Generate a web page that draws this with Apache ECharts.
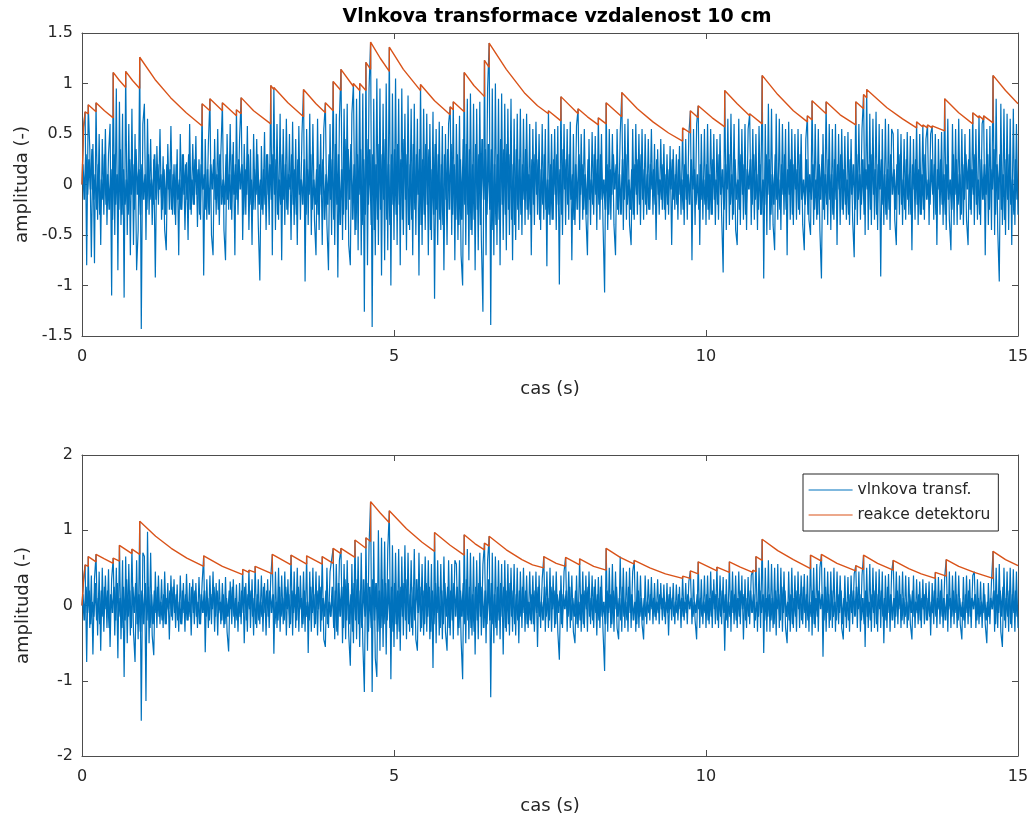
<!DOCTYPE html>
<html><head><meta charset="utf-8">
<script src="https://cdn.jsdelivr.net/npm/echarts/dist/echarts.min.js"></script>
<style>html,body{margin:0;padding:0;background:#fff}#c{width:1035px;height:823px}</style>
</head><body><div id="c"></div><script>
// sampling step of the wavelet signal (s); "Mid" arrays hold the dense core samples, half a step later
const T_STEP = 0.025;
const titleText = 'Vlnkova transformace vzdalenost 10 cm';
const xName = 'cas (s)';
const yName = 'amplituda (-)';
const seriesNames = ['vlnkova transf.', 'reakce detektoru'];

// top panel: wavelet transform values, one row per second
const topWave = [
0,.57,.72,-.80,.79,.35,-.72,.40,-.78,.81,-.35,.50,-.60,.45,-.30,.55,-.40,.30,.60,-1.10,1.11,-.50,.95,-.85,.82,-.40,.70,-1.12,1.12,-.50,.60,-.70,.75,-.60,.50,-.85,-.45,1.26,-1.43,.60,
.80,-.55,.65,-.30,.45,-.40,.25,-.92,.38,-.20,.55,-.35,.28,-.45,-.65,.40,-.25,.58,-.30,.20,-.40,.35,-.70,.50,-.25,.30,-.45,.22,-.55,.60,-.30,.40,-.20,.48,-.42,.25,-.35,.80,-.90,.45,
-.35,.40,.85,-.50,-.70,.45,-.30,.55,-.40,.30,.81,-.45,-.75,.50,-.25,.60,-.35,.42,-.70,.74,-.30,.45,.86,-.55,.40,-.30,.58,-.45,.35,-.60,.50,-.25,.45,-.40,-.95,.38,-.30,.52,-.45,.30,
-.40,.98,-.70,.96,-.45,.60,-.35,.70,-.75,.55,-.40,.65,-.30,.50,-.55,.62,-.40,.45,-.60,.58,-.35,.50,.94,-.96,.55,-.40,.70,-.50,.60,-.35,-.70,.65,-.45,.50,-.60,.55,.81,-.40,-.85,.60,
-.50,1.02,-.60,.70,-.92,.65,1.14,-.55,.75,-.45,.80,-.60,-.80,.70,1.00,-.50,.85,-.65,1.00,-.70,.90,-1.26,1.21,-.80,.95,1.41,-1.41,.85,-.70,1.05,-.60,.95,-.90,.80,-.75,1.00,-.65,1.36,-1.00,.90,
-.55,1.05,-.60,.85,-.80,.95,-.50,.70,-.65,.88,-.45,.75,-.70,.80,-.50,.65,-.90,.99,-.60,.75,-.45,.70,-.70,.60,-.55,.72,-1.13,.55,-.60,.62,-.45,.58,-.85,.50,-.60,.60,.77,-.50,.82,-.75,
.60,-.55,.68,-.70,-1.00,1.11,-.60,.85,-.75,.90,-.50,.80,-.85,.75,-.65,.82,-.55,-1.26,1.23,-.70,.95,1.40,-1.39,.95,-.70,1.00,-.60,.85,-.80,.90,-.55,.80,-.65,.75,-.50,.85,-.75,.65,-.55,.70,
-.45,.75,-.50,.65,-.40,.70,-.35,.60,-.70,.55,-.40,.62,-.30,.50,-.45,.60,-.35,.55,-.81,.73,-.40,.50,-.35,.55,-.45,.58,-.99,.87,-.50,.60,-.40,.55,-.35,.62,-.75,.50,-.40,.58,.75,-.45,
.50,-.35,.55,-.30,-.70,.45,-.40,.52,-.30,.48,-.45,.66,-.35,.50,-.40,-1.07,.81,-.45,.55,-.35,.50,-.40,-.70,.55,-.30,.50,.91,-.45,.60,-.35,.65,-.40,-.60,.55,-.35,.60,-.30,.50,-.40,.55,
-.35,.50,-.30,.45,-.25,.55,-.30,.40,-.55,.35,-.30,.45,-.25,.40,-.35,.30,-.30,.38,-.60,.35,-.25,.30,-.35,.38,-.30,.56,-.40,.45,-.35,.50,.73,-.75,.55,-.40,.60,.78,-.60,.50,-.35,.55,
-.40,.60,-.35,.55,-.30,.50,-.40,.45,-.35,.50,-.30,-.87,.93,-.45,.65,-.40,.70,-.35,.60,-.45,-.60,.65,-.40,.55,-.35,.60,-.45,.55,.70,-.40,.55,-.35,.50,-.45,.58,-.30,1.08,-.93,.60,-.50,
.80,-.45,.75,-.40,-.65,.70,-.35,.65,-.45,.60,-.30,.55,-.70,.62,-.35,.55,-.40,.50,-.35,.55,-.30,.50,-.40,-.65,.45,.68,-.35,-.50,.83,-.40,.60,-.35,.55,-.45,-.93,.50,-.35,.82,-.40,.60,
-.45,.55,-.35,.60,-.60,.50,-.40,.55,-.30,.48,-.35,.52,-.40,.45,-.35,-.72,.82,-.40,.60,-.35,.55,.89,-.50,.94,-.45,.70,-.40,.65,-.35,.72,-.45,.60,-.91,.55,-.40,.65,-.35,.60,-.45,.55,
.50,-.35,-.60,.55,-.30,.50,-.40,.45,-.35,.52,-.30,.48,-.65,.45,-.35,.62,-.40,.50,-.30,.59,-.35,.45,.59,-.40,.50,.58,-.35,.50,-.60,.45,-.30,.52,-.40,.85,-.45,.65,-.35,-.65,.60,-.40,
.55,-.40,.65,-.35,.55,-.40,.50,-.35,-.60,.55,-.30,.71,-.40,.55,-.35,.68,-.40,.60,.68,-.70,.55,-.40,.58,-.45,1.08,-.50,.85,-.45,-.96,.80,-.40,.75,-.50,.70,-.45,.65,-.60,.75,-.40,.60,
-.30];
const topWaveMid = [
.20,-.15,.30,-.10,.25,-.05,.35,-.15,.10,-.25,.20,-.30,.05,-.15,.30,-.20,.10,-.25,.15,-.35,.30,-.20,.10,-.25,.35,-.30,.15,-.20,.05,-.30,.25,-.10,.20,-.25,.35,-.10,.15,-.30,.20,-.15,
.10,-.25,.30,-.15,.05,-.20,.30,-.15,.20,-.05,.10,-.25,.15,-.30,.20,-.05,.15,-.25,.10,-.30,.20,-.15,.05,-.25,.30,-.10,.20,-.15,.30,-.25,.05,-.20,.25,-.10,.15,-.30,.20,-.05,.10,-.25,
.15,-.30,.20,-.05,.25,-.15,.10,-.25,.30,-.20,.05,-.20,.30,-.15,.10,-.25,.30,-.10,.20,-.15,.25,-.05,.20,-.30,.15,-.10,.30,-.20,.05,-.25,.15,-.10,.30,-.20,.05,-.25,.15,-.20,.30,-.10,
.20,-.15,.30,-.10,.25,-.30,.05,-.20,.30,-.15,.20,-.25,.10,-.05,.30,-.20,.15,-.30,.25,-.10,.05,-.20,.25,-.30,.15,-.10,.30,-.25,.05,-.20,.15,-.30,.20,-.10,.25,-.35,.10,-.20,.30,-.15,
.25,-.35,.40,-.20,.30,-.40,.15,-.30,.45,-.25,.35,-.15,.40,-.35,.20,-.45,.30,-.10,.35,-.40,.25,-.30,.45,-.20,.35,-.40,.30,-.45,.20,-.35,.40,-.25,.30,-.15,.45,-.35,.20,-.40,.30,-.20,
.35,-.30,.40,-.20,.25,-.35,.45,-.15,.30,-.40,.20,-.35,.40,-.25,.30,-.10,.35,-.40,.25,-.30,.40,-.20,.35,-.45,.15,-.30,.40,-.25,.30,-.35,.20,-.40,.30,-.15,.35,-.25,.40,-.30,.20,-.35,
.30,-.40,.25,-.35,.45,-.20,.40,-.30,.35,-.45,.20,-.35,.40,-.25,.30,-.40,.45,-.15,.35,-.30,.40,-.25,.35,-.45,.20,-.40,.30,-.35,.45,-.20,.35,-.30,.40,-.25,.30,-.35,.20,-.40,.35,-.25,
.25,-.30,.20,-.15,.35,-.25,.10,-.30,.25,-.20,.30,-.10,.25,-.35,.15,-.20,.30,-.25,.05,-.30,.20,-.35,.25,-.10,.30,-.20,.15,-.30,.35,-.05,.25,-.20,.30,-.15,.10,-.35,.20,-.25,.30,-.10,
.20,-.25,.10,-.30,.25,-.15,.05,-.20,.30,-.10,.25,-.20,.30,-.15,.05,-.25,.20,-.30,.15,-.10,.30,-.05,.20,-.25,.10,-.30,.25,-.15,.30,-.20,.05,-.25,.15,-.30,.20,-.10,.25,-.20,.30,-.15,
.15,-.20,.10,-.25,.20,-.05,.15,-.20,.25,-.10,.05,-.15,.20,-.25,.10,-.20,.15,-.05,.25,-.15,.10,-.20,.25,-.10,.05,-.25,.20,-.15,.10,-.20,.25,-.05,.15,-.20,.10,-.25,.20,-.15,.05,-.20,
.20,-.25,.10,-.30,.25,-.15,.05,-.20,.30,-.10,.15,-.25,.20,-.05,.30,-.20,.10,-.30,.25,-.15,.05,-.25,.30,-.10,.20,-.30,.15,-.05,.25,-.20,.30,-.15,.10,-.25,.20,-.30,.05,-.20,.30,-.10,
.25,-.30,.10,-.20,.30,-.15,.05,-.25,.20,-.10,.30,-.25,.15,-.10,.25,-.30,.20,-.05,.15,-.25,.30,-.15,.05,-.20,.25,-.30,.10,-.15,.20,-.25,.05,-.30,.20,-.15,.30,-.25,.10,-.20,.25,-.15,
.10,-.30,.25,-.15,.20,-.05,.30,-.25,.15,-.20,.05,-.30,.25,-.10,.20,-.25,.30,-.15,.10,-.20,.25,-.30,.15,-.05,.20,-.25,.30,-.10,.15,-.30,.20,-.05,.25,-.20,.10,-.30,.15,-.25,.30,-.10,
.15,-.25,.20,-.10,.30,-.20,.05,-.25,.25,-.15,.10,-.30,.20,-.05,.25,-.20,.15,-.30,.10,-.25,.30,-.15,.05,-.20,.25,-.10,.20,-.30,.15,-.05,.25,-.20,.10,-.30,.20,-.15,.05,-.25,.30,-.10,
.25,-.20,.10,-.30,.20,-.15,.30,-.05,.25,-.25,.15,-.10,.30,-.20,.05,-.30,.25,-.15,.20,-.10,.30,-.25,.15,-.05,.35,-.30,.20,-.15,.30,-.25,.10,-.35,.25,-.15,.30,-.20,.05,-.30,.25,-.15];

// top panel: detector reaction (envelope) as [time, value]
const topDetector = [[0,0],[0.025,0.57],[0.05,0.56],[0.05,0.72],[0.1,0.70],[0.1,0.79],[0.225,0.72],[0.225,0.81],[0.36,0.73],[0.5,0.66],[0.5,1.11],[0.6,1.03],[0.7,0.96],[0.7,1.12],[0.81,1.03],[0.925,0.95],[0.925,1.26],[1.17,1.04],[1.42,0.86],[1.67,0.71],[1.925,0.58],[1.925,0.80],[2.05,0.73],[2.05,0.85],[2.25,0.73],[2.25,0.81],[2.475,0.68],[2.475,0.74],[2.55,0.70],[2.55,0.86],[2.75,0.73],[3.025,0.60],[3.025,0.98],[3.075,0.94],[3.075,0.96],[3.3,0.81],[3.55,0.67],[3.55,0.94],[3.75,0.80],[3.9,0.71],[3.9,0.81],[4.025,0.73],[4.025,1.02],[4.15,0.93],[4.15,1.14],[4.35,0.97],[4.35,1.00],[4.45,0.93],[4.45,1.00],[4.55,0.93],[4.55,1.21],[4.625,1.14],[4.625,1.41],[4.78,1.25],[4.925,1.12],[4.925,1.36],[5.15,1.14],[5.425,0.93],[5.425,0.99],[5.65,0.83],[5.9,0.69],[5.9,0.77],[5.95,0.74],[5.95,0.82],[6.125,0.72],[6.125,1.11],[6.28,0.98],[6.45,0.87],[6.45,1.23],[6.525,1.16],[6.525,1.40],[6.8,1.14],[7.1,0.90],[7.3,0.78],[7.475,0.70],[7.475,0.73],[7.675,0.63],[7.675,0.87],[7.95,0.70],[7.95,0.75],[8.1,0.67],[8.275,0.59],[8.275,0.66],[8.4,0.60],[8.4,0.81],[8.65,0.67],[8.65,0.91],[8.9,0.75],[9.15,0.62],[9.4,0.51],[9.625,0.43],[9.625,0.56],[9.75,0.51],[9.75,0.73],[9.875,0.66],[9.875,0.78],[10.1,0.66],[10.3,0.57],[10.3,0.93],[10.5,0.80],[10.7,0.68],[10.7,0.70],[10.9,0.60],[10.9,1.08],[11.15,0.89],[11.4,0.73],[11.625,0.62],[11.625,0.68],[11.7,0.64],[11.7,0.83],[11.925,0.70],[11.925,0.82],[12.15,0.69],[12.4,0.59],[12.4,0.82],[12.525,0.75],[12.525,0.89],[12.575,0.86],[12.575,0.94],[12.9,0.76],[13.15,0.65],[13.375,0.56],[13.375,0.62],[13.475,0.57],[13.475,0.59],[13.55,0.56],[13.55,0.59],[13.625,0.56],[13.625,0.58],[13.825,0.53],[13.825,0.85],[14.05,0.71],[14.275,0.60],[14.275,0.71],[14.375,0.66],[14.375,0.68],[14.45,0.64],[14.45,0.68],[14.6,0.61],[14.6,1.08],[14.8,0.93],[15,0.80]];

// bottom panel: wavelet transform values
const bottomWave = [
0,.34,.54,-.75,.65,-.30,.40,-.65,.35,.68,-.40,.45,-.60,.50,-.35,.40,-.30,.48,-.55,.35,.63,-.40,.50,-.70,.80,-.45,.60,-.95,.65,-.50,.55,-.40,.75,-.35,-.75,.60,-.45,1.12,-1.53,.70,
.65,-1.27,.98,-.50,.70,-.40,-.66,.45,-.30,.40,-.25,.35,-.30,.45,-.25,.30,-.45,.40,-.20,.35,-.30,.28,-.35,.40,-.25,.30,-.35,.42,-.20,.30,-.40,.35,-.25,.30,-.30,.38,-.25,.30,.66,-.62,
.35,-.30,.40,-.25,.45,-.35,.30,-.40,.35,-.25,.30,-.30,.38,-.35,-.61,.32,-.25,.35,-.30,.28,-.35,.30,-.25,.48,-.50,.30,-.35,.47,-.30,.35,-.40,.52,-.30,.35,-.25,.40,-.35,.30,-.40,.35,
-.30,.38,.68,-.64,.45,-.30,.50,-.35,.40,-.25,.45,-.40,.35,-.30,.67,-.40,.45,-.30,.50,-.35,.40,-.30,.45,-.35,.66,-.63,.45,-.35,.50,-.30,.45,-.40,.40,-.35,.65,-.45,-.55,.50,-.30,.45,
.45,.76,-.45,.55,-.40,.60,.76,-.50,.55,-.45,.60,-.40,-.80,.55,-.50,.87,-.45,.65,-.55,.70,-.50,-1.15,.90,-.60,.80,1.38,-1.15,.85,-.70,-.95,1.00,-.60,.90,-.55,.85,-.65,.75,1.26,-.98,.80,
-.55,.70,-.45,.75,-.60,.65,-.40,.80,-.45,.70,-.35,.60,-.40,.75,-.45,-.60,.70,-.35,.55,-.40,.65,-.35,.60,-.45,.55,-.83,.97,-.50,.60,-.40,.55,-.45,.65,-.35,-.60,.60,-.40,.55,-.45,.60,
.55,-.40,.60,-.45,-.98,.94,-.50,.75,-.45,.70,-.40,.65,-.65,.60,-.45,.70,-.40,.55,.83,-.50,.60,.92,-1.22,.70,-.50,.65,-.40,.60,-.45,.55,-.65,.60,-.35,.55,-.40,.50,-.35,.55,-.40,.50,
-.50,.45,-.30,.50,-.35,.40,-.30,.45,-.25,.40,-.35,.45,-.55,.40,-.30,.35,.65,-.35,.45,-.30,.50,-.35,.40,-.30,.45,-.35,-.72,.40,-.30,.45,.64,-.35,.45,-.30,.40,-.35,-.50,.40,-.30,.62,
-.35,.45,-.30,.40,-.35,.45,-.25,.40,-.30,.35,-.40,.38,-.30,.40,-.35,-.87,.76,-.35,.50,-.30,.55,-.35,.45,-.30,-.45,.65,-.35,.50,-.30,.45,-.35,.50,-.30,.45,.60,-.35,.45,-.30,.40,-.25,
-.45,.40,-.25,.35,-.20,.38,-.25,.30,-.20,.35,-.25,.30,-.20,.28,-.25,.30,-.40,.25,-.20,.30,-.25,.28,-.20,.25,-.30,.39,-.20,.30,-.25,.32,.46,-.25,.35,-.20,-.45,.58,-.30,.35,-.25,.40,
-.30,.40,-.25,.45,-.30,.35,-.25,.51,-.30,.40,-.25,.38,-.60,.35,-.30,.58,-.35,.45,-.25,.40,-.30,.45,-.25,.40,-.45,.35,-.30,.38,-.25,.40,.47,-.30,.65,-.35,.50,-.30,.88,-.63,.50,-.35,
.60,-.35,.55,-.30,.50,-.40,.55,-.30,.50,-.35,.45,-.30,-.50,.45,-.35,.50,-.30,.40,-.35,.45,-.30,.40,-.25,.42,-.30,.40,-.35,.67,-.40,.50,-.30,.55,-.35,.50,.68,-.68,.50,-.35,.45,-.30,
.45,-.30,.50,-.35,.45,-.25,.40,-.30,-.45,.40,-.30,.38,-.35,.40,-.25,.42,.53,-.30,.45,-.35,.40,.67,-.55,.50,-.30,.55,-.35,.50,-.30,.45,-.35,.48,-.30,.45,-.50,.40,-.30,.42,-.35,.45,
.60,-.30,.45,-.25,.40,-.30,.45,-.25,.40,-.30,.38,-.25,-.45,.40,-.30,.35,-.25,.32,-.30,.35,-.25,.30,-.20,.32,-.40,.30,-.25,.44,-.30,.38,-.25,.35,-.30,.38,.61,-.35,.45,-.30,.40,-.25,
.45,-.30,.40,-.25,-.45,.38,-.30,.40,-.25,.35,-.30,.40,.45,-.30,.35,-.25,.32,-.30,.30,-.25,-.50,.30,-.25,.32,.72,-.35,.50,-.30,.55,-.35,-.55,.50,-.30,.45,-.35,.50,-.30,.48,-.35,.45,
-.30];
const bottomWaveMid = [
.15,-.20,.25,-.10,.20,-.25,.05,-.15,.30,-.20,.10,-.25,.20,-.15,.25,-.05,.20,-.30,.15,-.10,.25,-.20,.30,-.15,.10,-.30,.25,-.20,.35,-.15,.20,-.30,.25,-.10,.30,-.25,.15,-.35,.20,-.25,
.30,-.20,.25,-.30,.15,-.25,.20,-.10,.25,-.15,.05,-.20,.15,-.25,.10,-.05,.20,-.15,.25,-.10,.15,-.20,.05,-.25,.20,-.10,.15,-.20,.05,-.15,.25,-.10,.20,-.15,.05,-.25,.15,-.10,.20,-.15,
.10,-.20,.15,-.05,.25,-.15,.20,-.10,.05,-.20,.15,-.25,.10,-.15,.20,-.05,.25,-.15,.10,-.20,.05,-.15,.20,-.10,.25,-.20,.15,-.05,.20,-.15,.10,-.25,.15,-.20,.05,-.15,.25,-.10,.20,-.15,
.20,-.10,.15,-.25,.05,-.20,.25,-.15,.10,-.20,.25,-.05,.15,-.25,.20,-.10,.15,-.20,.25,-.05,.10,-.25,.20,-.15,.05,-.20,.25,-.10,.15,-.25,.20,-.05,.25,-.20,.10,-.15,.20,-.25,.05,-.15,
.25,-.30,.20,-.35,.30,-.15,.25,-.30,.35,-.20,.30,-.25,.15,-.35,.30,-.20,.35,-.25,.20,-.30,.35,-.15,.30,-.35,.25,-.30,.35,-.20,.30,-.35,.20,-.30,.35,-.25,.30,-.20,.35,-.30,.25,-.35,
.30,-.25,.20,-.35,.25,-.15,.30,-.20,.35,-.25,.15,-.30,.25,-.20,.35,-.10,.25,-.30,.20,-.25,.30,-.15,.25,-.35,.20,-.25,.30,-.10,.25,-.30,.20,-.25,.30,-.15,.25,-.30,.20,-.20,.30,-.15,
.25,-.30,.20,-.15,.30,-.25,.35,-.20,.25,-.30,.15,-.35,.25,-.20,.30,-.15,.25,-.30,.20,-.25,.35,-.20,.30,-.25,.15,-.30,.25,-.20,.30,-.15,.25,-.30,.20,-.25,.30,-.15,.20,-.25,.15,-.20,
.20,-.15,.25,-.10,.20,-.25,.05,-.20,.15,-.25,.20,-.10,.25,-.15,.05,-.20,.25,-.15,.10,-.20,.25,-.05,.20,-.25,.15,-.10,.20,-.25,.15,-.05,.20,-.15,.25,-.20,.10,-.15,.20,-.25,.05,-.20,
.15,-.25,.20,-.05,.25,-.15,.10,-.20,.25,-.10,.15,-.20,.25,-.15,.05,-.25,.20,-.10,.15,-.25,.20,-.05,.25,-.15,.10,-.20,.25,-.15,.05,-.20,.25,-.10,.15,-.20,.05,-.25,.20,-.15,.10,-.20,
.10,-.15,.05,-.10,.15,-.05,.10,-.15,.05,-.10,.15,-.05,.10,-.15,.05,-.10,.15,-.05,.10,-.15,.05,-.10,.15,-.05,.10,-.15,.05,-.10,.15,-.05,.10,-.15,.05,-.10,.15,-.05,.10,-.15,.05,-.10,
.15,-.20,.10,-.15,.20,-.05,.15,-.20,.10,-.15,.20,-.10,.15,-.20,.05,-.15,.20,-.10,.15,-.20,.10,-.15,.20,-.05,.15,-.20,.10,-.15,.20,-.10,.15,-.20,.05,-.15,.20,-.10,.15,-.20,.10,-.15,
.15,-.20,.10,-.25,.20,-.05,.15,-.20,.25,-.10,.20,-.15,.05,-.20,.15,-.25,.10,-.15,.20,-.05,.15,-.20,.25,-.10,.15,-.20,.05,-.15,.20,-.25,.10,-.15,.20,-.05,.15,-.20,.25,-.10,.15,-.20,
.20,-.15,.05,-.20,.15,-.10,.20,-.25,.10,-.15,.05,-.20,.15,-.10,.20,-.15,.25,-.05,.15,-.20,.10,-.25,.20,-.15,.05,-.20,.15,-.10,.20,-.25,.15,-.05,.20,-.15,.10,-.20,.25,-.10,.15,-.20,
.10,-.15,.20,-.05,.15,-.20,.10,-.15,.05,-.20,.15,-.10,.20,-.15,.05,-.10,.15,-.20,.10,-.05,.15,-.20,.10,-.15,.05,-.10,.20,-.15,.10,-.05,.20,-.15,.10,-.20,.15,-.05,.10,-.15,.20,-.10,
.15,-.20,.10,-.15,.05,-.20,.15,-.10,.20,-.15,.10,-.05,.15,-.20,.10,-.15,.05,-.10,.15,-.20,.05,-.15,.10,-.05,.20,-.25,.15,-.10,.20,-.15,.25,-.20,.10,-.15,.20,-.25,.15,-.10,.20,-.15];

// bottom panel: detector reaction
const bottomDetector = [[0,0],[0.025,0.34],[0.05,0.33],[0.05,0.54],[0.1,0.52],[0.1,0.65],[0.225,0.58],[0.225,0.68],[0.36,0.62],[0.5,0.56],[0.5,0.63],[0.6,0.59],[0.6,0.80],[0.8,0.69],[0.8,0.75],[0.925,0.68],[0.925,1.12],[1.18,0.92],[1.43,0.76],[1.68,0.63],[1.95,0.52],[1.95,0.66],[2.25,0.52],[2.575,0.41],[2.575,0.48],[2.675,0.44],[2.675,0.47],[2.775,0.44],[2.775,0.52],[3.05,0.42],[3.05,0.68],[3.35,0.54],[3.35,0.67],[3.6,0.55],[3.6,0.66],[3.85,0.55],[3.85,0.65],[4.025,0.56],[4.025,0.76],[4.15,0.69],[4.15,0.76],[4.375,0.64],[4.375,0.87],[4.55,0.76],[4.55,0.90],[4.625,0.85],[4.625,1.38],[4.78,1.23],[4.925,1.10],[4.925,1.26],[5.2,1.02],[5.45,0.84],[5.65,0.72],[5.65,0.97],[5.9,0.80],[6.125,0.67],[6.125,0.94],[6.3,0.82],[6.45,0.74],[6.45,0.83],[6.525,0.79],[6.525,0.92],[6.8,0.74],[7.05,0.61],[7.22,0.54],[7.4,0.50],[7.4,0.65],[7.6,0.56],[7.75,0.52],[7.75,0.64],[7.975,0.54],[7.975,0.62],[8.2,0.52],[8.4,0.47],[8.4,0.76],[8.625,0.64],[8.625,0.65],[8.85,0.55],[8.85,0.60],[9.1,0.50],[9.35,0.42],[9.625,0.36],[9.625,0.39],[9.75,0.36],[9.75,0.46],[9.875,0.42],[9.875,0.58],[10.175,0.46],[10.175,0.51],[10.375,0.44],[10.375,0.58],[10.55,0.51],[10.75,0.44],[10.75,0.47],[10.8,0.45],[10.8,0.65],[10.9,0.60],[10.9,0.88],[11.15,0.73],[11.4,0.61],[11.675,0.49],[11.675,0.67],[11.85,0.59],[11.85,0.68],[12.1,0.56],[12.4,0.46],[12.4,0.53],[12.525,0.48],[12.525,0.67],[12.75,0.56],[13.0,0.47],[13.0,0.60],[13.25,0.49],[13.45,0.42],[13.675,0.36],[13.675,0.44],[13.85,0.39],[13.85,0.61],[14.05,0.52],[14.3,0.44],[14.3,0.45],[14.45,0.40],[14.6,0.36],[14.6,0.72],[14.8,0.61],[15,0.53]];

const xRange = {min: 0, max: 15, interval: 5};
const topYRange = {min: -1.5, max: 1.5, interval: 0.5};
const bottomYRange = {min: -2, max: 2, interval: 1};

const FONT = "'DejaVu Sans', sans-serif";
const TXT = '#262626';
const LINE = '#4d4d4d';
const BLUE = '#0072BD';
const ORANGE = '#D95319';

// pair samples with their time (offset 0 for main samples, half a step for core samples)
function withTime(values, offset) { return values.map((v, i) => [(i + offset) * T_STEP, v]); }

function xAxes(gi, nameGap) {
  const base = {gridIndex: gi, type: 'value', min: xRange.min, max: xRange.max, interval: xRange.interval,
    splitLine: {show: false},
    axisLine: {show: true, onZero: false, lineStyle: {color: LINE, width: 1}},
    axisTick: {show: true, inside: true, length: 6, lineStyle: {color: LINE}}};
  return [
    Object.assign({}, base, {position: 'bottom',
      axisLabel: {fontSize: 16, color: TXT, fontFamily: FONT, margin: 13},
      name: xName, nameLocation: 'middle', nameGap: nameGap,
      nameTextStyle: {fontSize: 18, color: TXT, fontFamily: FONT}}),
    Object.assign({}, base, {position: 'top', axisLabel: {show: false}})
  ];
}
function yAxes(gi, r) {
  const base = {gridIndex: gi, type: 'value', min: r.min, max: r.max, interval: r.interval,
    splitLine: {show: false},
    axisLine: {show: true, onZero: false, lineStyle: {color: LINE, width: 1}},
    axisTick: {show: true, inside: true, length: 6, lineStyle: {color: LINE}}};
  return [
    Object.assign({}, base, {position: 'left',
      axisLabel: {fontSize: 16, color: TXT, fontFamily: FONT, margin: 9},
      name: yName, nameLocation: 'middle', nameGap: 50,
      nameTextStyle: {fontSize: 18, color: TXT, fontFamily: FONT}}),
    Object.assign({}, base, {position: 'right', axisLabel: {show: false}})
  ];
}
function lineSeries(name, data, color, width, xi, yi) {
  return {type: 'line', name: name, data: data, xAxisIndex: xi, yAxisIndex: yi,
    symbol: 'none', showSymbol: false, silent: true,
    lineStyle: {color: color, width: width}, itemStyle: {color: color}};
}

const chart = echarts.init(document.getElementById('c'), null, {renderer: 'canvas'});
chart.setOption({
  animation: false,
  backgroundColor: '#fff',
  title: {text: titleText, left: 552, top: 3, textAlign: 'center',
    textStyle: {fontSize: 19, fontWeight: 'bold', fontFamily: FONT, color: '#000'}},
  grid: [
    {left: 82, top: 33, width: 936, height: 303},
    {left: 82, top: 455, width: 936, height: 301}
  ],
  xAxis: xAxes(0, 44).concat(xAxes(1, 41)),
  yAxis: yAxes(0, topYRange).concat(yAxes(1, bottomYRange)),
  legend: {data: seriesNames, orient: 'vertical', left: 803, top: 474,
    itemWidth: 44, itemHeight: 14, itemGap: 9, padding: [8, 8, 8, 5],
    borderColor: '#262626', borderWidth: 1, backgroundColor: '#fff',
    itemStyle: {opacity: 0}, lineStyle: {width: 1.2},
    textStyle: {fontSize: 15.5, color: TXT, fontFamily: FONT}},
  series: [
    lineSeries(seriesNames[0], withTime(topWave, 0), BLUE, 1.2, 0, 0),
    lineSeries(seriesNames[0], withTime(topWaveMid, 0.5), BLUE, 1.7, 0, 0),
    lineSeries(seriesNames[1], topDetector, ORANGE, 1.4, 0, 0),
    lineSeries(seriesNames[0], withTime(bottomWave, 0), BLUE, 1.2, 2, 2),
    lineSeries(seriesNames[0], withTime(bottomWaveMid, 0.5), BLUE, 1.7, 2, 2),
    lineSeries(seriesNames[1], bottomDetector, ORANGE, 1.4, 2, 2)
  ]
});
</script></body></html>
